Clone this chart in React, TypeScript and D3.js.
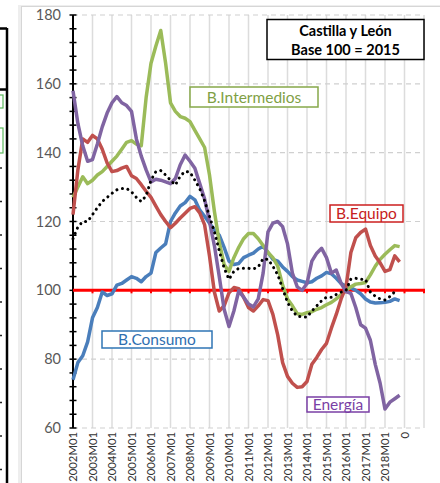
import { useEffect, useRef } from 'react';
import * as d3 from 'd3';

// quarterly readings, first value = 2002M01, one value every 3 months
const STEP = 3;

const consumo = [74, 79, 81, 85, 92, 95, 99.5, 98.5, 99, 101.5, 102, 103, 104, 103.5, 102.5, 104, 105, 111, 112.3, 113.5,
  120, 122.5, 124.5, 125.5, 127.3, 126.3, 123.3, 121.5, 119.5, 117.5, 116, 112.5, 108.5, 107.5, 107.8, 109.5, 110.2, 110.8,
  112, 112.8, 111, 109, 108.5, 106.8, 105.5, 104, 103, 102.6, 102.2, 102.5, 103.5, 104.2, 105.2, 104.8, 103.5, 102, 101.2,
  100.7, 100, 99, 97.5, 96.6, 96.3, 96.4, 96.5, 96.8, 97.5, 97];

const intermedios = [127, 130, 133, 131, 132, 133.5, 134.5, 136, 137.5, 139, 141, 143, 143.5, 142.5, 142, 156, 166, 171,
  175.5, 166, 154.5, 152, 150.5, 150, 149, 146.5, 144, 141.5, 133.5, 123, 114, 107.5, 105.5, 109.5, 112.5, 115, 116.5, 116.5,
  115, 113, 111, 109.5, 107, 101.5, 97.5, 95.5, 93.2, 93, 93.5, 93.8, 94.5, 95, 95.8, 96.5, 97.5, 98.8, 100, 101, 101.8,
  102, 102.3, 104.5, 107, 109, 110.5, 111.8, 113, 112.7];

const equipo = [122, 135, 144, 143, 145, 144, 141, 137, 134.5, 134.8, 135.5, 136, 133.3, 132.5, 130.7, 128.8, 127, 124.5,
  122, 120, 118.2, 119.5, 121, 122.4, 123.8, 124.3, 122.5, 119, 110, 99.5, 94, 95.5, 99.3, 100.8, 100.5, 98, 95, 94, 95.5,
  97.3, 97, 93, 87, 79, 75, 73, 71.8, 72, 73.5, 78.5, 80.5, 82.8, 84.6, 89, 93, 97.5, 101, 111, 115.3, 116.8, 117.8, 113,
  110, 108, 105.5, 106, 110, 108.3];

const energia = [158, 148.5, 142, 137.5, 138, 142.5, 147.5, 151.5, 154.5, 156.3, 154.5, 153.7, 152, 144, 139, 135, 131.5,
  132.3, 132, 131.5, 131, 132.5, 136.5, 139.3, 137.5, 135.5, 131, 126.5, 120, 113, 104, 94.5, 89.5, 94, 99.8, 98, 96, 95.2,
  97.5, 105, 117, 119.5, 120, 118.5, 113.5, 105, 101, 100, 102, 108.5, 110.8, 112.2, 109.5, 105, 105.9, 102, 99.6, 99.1, 95,
  90, 89, 85.5, 78.5, 73, 65.5, 67.5, 68.5, 69.5];

const general = [115, 118.4, 120, 120, 122, 124, 125.8, 127, 128.2, 129.2, 129.6, 129.6, 128.6, 127, 125.8, 127.5, 132,
  134.5, 134.8, 133.5, 132, 130.6, 133.2, 134.6, 134.3, 132, 129.5, 126, 121.5, 117, 111.5, 106.5, 103.2, 105.5, 106.4,
  106.4, 106.4, 106.2, 106.8, 109.2, 109, 107, 104.5, 100.5, 96.5, 94, 92.5, 92.3, 92.2, 94, 95.5, 97, 98, 98, 98.8, 99.5,
  100, 103.3, 103.5, 103.2, 103.2, 99.5, 98.3, 97.5, 97.2, 98.2, 99.6];

const xLabels = ['2002M01', '2003M01', '2004M01', '2005M01', '2006M01', '2007M01', '2008M01', '2009M01', '2010M01',
  '2011M01', '2012M01', '2013M01', '2014M01', '2015M01', '2016M01', '2017M01', '2018M01', '0'];
const yTicks = [60, 80, 100, 120, 140, 160, 180];

const series = [
  { name: 'B.Consumo', values: consumo, color: '#4a7ebb' },
  { name: 'B.Intermedios', values: intermedios, color: '#9bbb59' },
  { name: 'B.Equipo', values: equipo, color: '#c0504d' },
  { name: 'Energía', values: energia, color: '#8064a2' },
];

const labels = [
  { text: 'B.Intermedios', x: 190, y: 87, w: 128, h: 20, stroke: '#86a84a', fill: '#7f9f45' },
  { text: 'B.Equipo', x: 330, y: 205, w: 73, h: 17, stroke: '#cc1f1f', fill: '#c62020' },
  { text: 'B.Consumo', x: 102, y: 331, w: 110, h: 17, stroke: '#2f75b5', fill: '#2f6fb0' },
  { text: 'Energía', x: 307, y: 397, w: 62, h: 15, stroke: '#7a3fa5', fill: '#7a3fa5' },
];

const FONT = 'Lato, "Open Sans", sans-serif';

export default function App() {
  const svgRef = useRef<SVGSVGElement | null>(null);

  useEffect(() => {
    if (!svgRef.current) return;
    const svg = d3.select(svgRef.current);
    svg.selectAll('*').remove();

    const x = d3.scaleLinear().domain([0, 216]).range([73, 424]);
    const y = d3.scaleLinear().domain([60, 180]).range([428, 15]);

    // left neighbour chart, cut off by the crop
    const left = svg.append('g');
    left.append('path').attr('d', 'M0,28.5H7M7,28V483M0,89.5H7').attr('stroke', '#000').attr('stroke-width', 2.5).attr('fill', 'none');
    left.append('rect').attr('x', -4).attr('y', 95).attr('width', 7).attr('height', 13).attr('fill', 'none').attr('stroke', '#5cb85c').attr('stroke-width', 1.2);
    left.append('rect').attr('x', -4).attr('y', 128).attr('width', 7).attr('height', 25).attr('fill', 'none').attr('stroke', '#5cb85c').attr('stroke-width', 1.2);
    d3.range(168, 483, 33.5).forEach(v => {
      left.append('line').attr('x1', 0).attr('x2', 2).attr('y1', v).attr('y2', v).attr('stroke', '#222').attr('stroke-width', 1.5);
    });

    // chart frame with shadow
    svg.append('rect').attr('x', 18).attr('y', 5).attr('width', 440).attr('height', 500).attr('fill', '#eeeeee');
    svg.append('rect').attr('x', 21.5).attr('y', 6.5).attr('width', 440).attr('height', 500).attr('fill', '#fff').attr('stroke', '#d6d6d6');

    // vertical gridlines, one per year
    svg.append('g')
      .selectAll('line')
      .data(d3.range(12, 217, 12))
      .join('line')
      .attr('x1', d => x(d)).attr('x2', d => x(d))
      .attr('y1', y(180)).attr('y2', y(60))
      .attr('stroke', '#dcdcdc').attr('stroke-width', 1.5);

    // horizontal dashed gridlines
    svg.append('g')
      .selectAll('line')
      .data(yTicks.filter(d => d !== 100))
      .join('line')
      .attr('x1', x(0)).attr('x2', x(216))
      .attr('y1', d => y(d)).attr('y2', d => y(d))
      .attr('stroke', '#d0d0d0').attr('stroke-width', 1.2).attr('stroke-dasharray', '5 4');

    // y axis with minor ticks every 4
    const yAxis = svg.append('g');
    yAxis.append('line').attr('x1', x(0)).attr('x2', x(0)).attr('y1', y(180)).attr('y2', y(60)).attr('stroke', '#000').attr('stroke-width', 2);
    yAxis.selectAll('.tick')
      .data(d3.range(60, 181, 4))
      .join('line')
      .attr('x1', x(0) - 3.5).attr('x2', x(0) + 3.5)
      .attr('y1', d => y(d)).attr('y2', d => y(d))
      .attr('stroke', '#000').attr('stroke-width', 1.5);
    yAxis.selectAll('text')
      .data(yTicks)
      .join('text')
      .attr('x', 61).attr('y', d => y(d))
      .attr('dy', '0.35em').attr('text-anchor', 'end')
      .attr('font-family', FONT).attr('font-size', 14.5).attr('fill', '#595959')
      .text(d => d);

    // x labels, rotated
    svg.append('g')
      .selectAll('text')
      .data(xLabels)
      .join('text')
      .attr('transform', (d, i) => `translate(${x(i * 12) + 4},432) rotate(-90)`)
      .attr('text-anchor', 'end')
      .attr('font-family', FONT).attr('font-size', 11.3).attr('fill', '#333')
      .text(d => d);

    // base 100 line (the category axis) with its ticks
    svg.append('line').attr('x1', x(0)).attr('x2', x(216) + 1).attr('y1', y(100)).attr('y2', y(100)).attr('stroke', '#ff0000').attr('stroke-width', 3);
    svg.append('g')
      .selectAll('line')
      .data(d3.range(12, 217, 12))
      .join('line')
      .attr('x1', d => x(d)).attr('x2', d => x(d))
      .attr('y1', y(100)).attr('y2', y(100) + 3)
      .attr('stroke', '#ff0000').attr('stroke-width', 2);

    const line = d3.line<number>()
      .x((d, i) => x(i * STEP))
      .y(d => y(d));

    svg.append('g')
      .selectAll('path')
      .data(series)
      .join('path')
      .attr('d', d => line(d.values))
      .attr('fill', 'none')
      .attr('stroke', d => d.color)
      .attr('stroke-width', 3.5)
      .attr('stroke-linejoin', 'round');

    svg.append('path')
      .attr('d', line(general))
      .attr('fill', 'none')
      .attr('stroke', '#000')
      .attr('stroke-width', 3)
      .attr('stroke-linecap', 'round')
      .attr('stroke-dasharray', '0.1 5.6');

    // series labels
    const lab = svg.append('g').selectAll('g').data(labels).join('g');
    lab.append('rect')
      .attr('x', d => d.x).attr('y', d => d.y).attr('width', d => d.w).attr('height', d => d.h)
      .attr('fill', '#fff').attr('stroke', d => d.stroke).attr('stroke-width', 1.5);
    lab.append('text')
      .attr('x', d => d.x + d.w / 2).attr('y', d => d.y + d.h / 2)
      .attr('dy', '0.36em').attr('text-anchor', 'middle')
      .attr('font-family', FONT).attr('font-size', 15.5).attr('fill', d => d.fill)
      .text(d => d.text);

    // title box
    const title = svg.append('g');
    title.append('rect').attr('x', 267).attr('y', 19.5).attr('width', 157).attr('height', 40).attr('fill', '#fff').attr('stroke', '#000').attr('stroke-width', 1.5);
    title.selectAll('text')
      .data(['Castilla y León', 'Base 100 = 2015'])
      .join('text')
      .attr('x', 345.5).attr('y', (d, i) => 30.5 + i * 19.5)
      .attr('dy', '0.36em').attr('text-anchor', 'middle')
      .attr('font-family', FONT).attr('font-weight', 'bold').attr('font-size', 14.5).attr('fill', '#000')
      .text(d => d);
  }, []);

  return <svg ref={svgRef} width={440} height={483} style={{ position: 'absolute', left: 0, top: 0, background: '#fff' }}></svg>;
}
